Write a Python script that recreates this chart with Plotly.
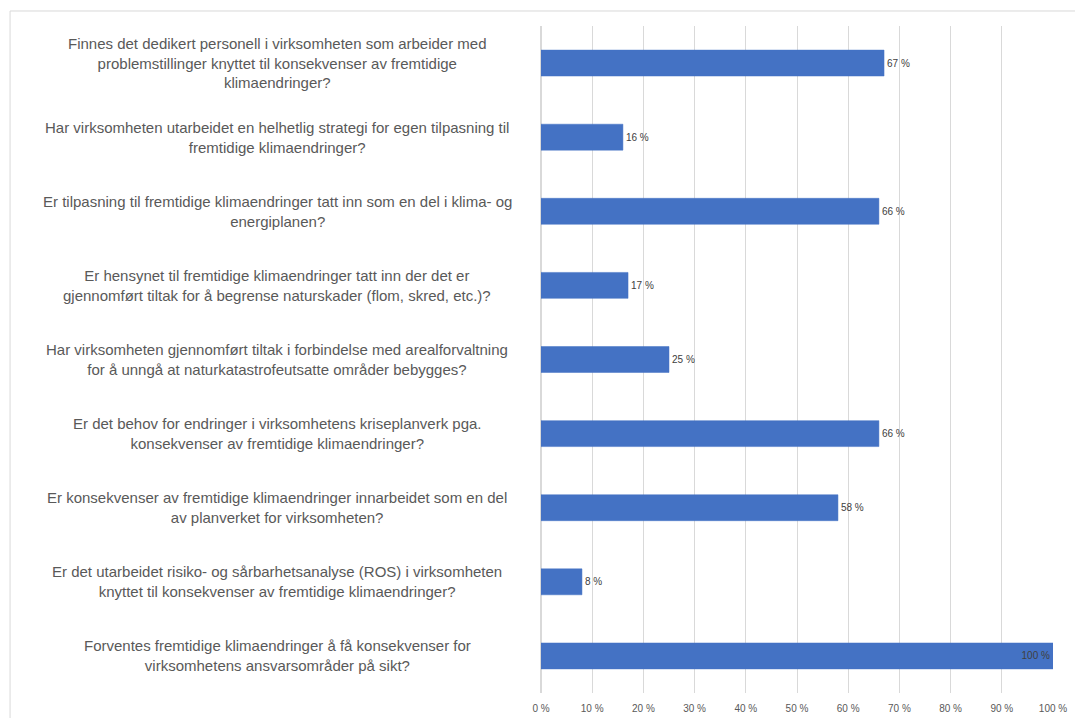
import plotly.graph_objects as go

questions = [
    "Finnes det dedikert personell i virksomheten som arbeider med<br>problemstillinger knyttet til konsekvenser av fremtidige<br>klimaendringer?",
    "Har virksomheten utarbeidet en helhetlig strategi for egen tilpasning til<br>fremtidige klimaendringer?",
    "Er tilpasning til fremtidige klimaendringer tatt inn som en del i klima- og<br>energiplanen?",
    "Er hensynet til fremtidige klimaendringer tatt inn der det er<br>gjennomført tiltak for å begrense naturskader (flom, skred, etc.)?",
    "Har virksomheten gjennomført tiltak i forbindelse med arealforvaltning<br>for å unngå at naturkatastrofeutsatte områder bebygges?",
    "Er det behov for endringer i virksomhetens kriseplanverk pga.<br>konsekvenser av fremtidige klimaendringer?",
    "Er konsekvenser av fremtidige klimaendringer innarbeidet som en del<br>av planverket for virksomheten?",
    "Er det utarbeidet risiko- og sårbarhetsanalyse (ROS) i virksomheten<br>knyttet til konsekvenser av fremtidige klimaendringer?",
    "Forventes fremtidige klimaendringer å få konsekvenser for<br>virksomhetens ansvarsområder på sikt?",
]
values = [67, 16, 66, 17, 25, 66, 58, 8, 100]
cat_ids = [f"q{i}" for i in range(len(questions))]

FONT = "Liberation Sans"
TXT = "#595959"

positions = ["inside" if v >= 100 else "outside" for v in values]

fig = go.Figure(go.Bar(
    y=cat_ids, x=values, orientation="h",
    marker=dict(color="#4472C4", line=dict(color="#4472C4", width=0.5)),
    text=[f"{v} %" for v in values], textposition=positions,
    insidetextanchor="end",
    textfont=dict(family=FONT, size=10, color="#404040"),
    insidetextfont=dict(family=FONT, size=10, color="#404040"),
    outsidetextfont=dict(family=FONT, size=10, color="#404040"),
    cliponaxis=False, width=0.35,
))

for cid, q in zip(cat_ids, questions):
    fig.add_annotation(x=-0.5156, xref="paper", y=cid, yref="y", text=q,
                       showarrow=False, xanchor="center", align="center",
                       font=dict(family=FONT, size=15, color=TXT))

fig.add_shape(type="rect", xref="paper", yref="paper",
              x0=-1.037, x1=1.2, y0=-0.2, y1=1.0225,
              line=dict(color="#D9D9D9", width=1), layer="below")

fig.update_layout(
    width=1075, height=718,
    margin=dict(l=541, r=22, t=26, b=25),
    paper_bgcolor="white", plot_bgcolor="white",
    showlegend=False,
    xaxis=dict(range=[0, 100], dtick=10, ticksuffix=" %", showgrid=True,
               gridcolor="#D9D9D9", gridwidth=1, zeroline=True,
               zerolinecolor="#D9D9D9", ticks="", ticklen=0,
               ticklabelstandoff=8, automargin=False,
               tickfont=dict(family=FONT, size=10, color=TXT)),
    yaxis=dict(autorange="reversed", showticklabels=False, showgrid=False,
               ticks="", showline=False, automargin=False),
)

fig.write_html("out.html", config={"displayModeBar": False},
               post_script="document.body.style.margin='0px';")
